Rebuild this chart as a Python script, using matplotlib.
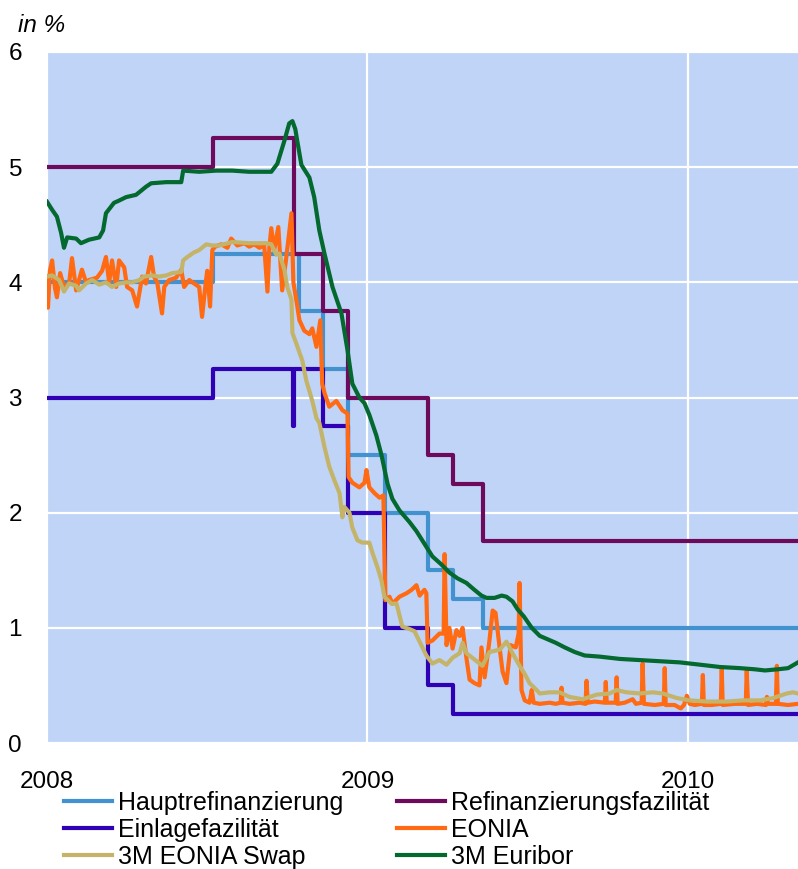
import numpy as np
import matplotlib
matplotlib.use('Agg')
import matplotlib.pyplot as plt
from matplotlib.lines import Line2D

plt.rcParams['font.family'] = ['Liberation Sans', 'DejaVu Sans']

# time axis in decimal years (offset from 2008.0)
# --- ECB policy rates (step functions) ---
mro_t = 2008 + np.array([0.000, 0.519, 0.787, 0.863, 0.940, 1.055, 1.189, 1.266, 1.362, 2.344])
mro_v = [4.00, 4.25, 3.75, 3.25, 2.50, 2.00, 1.50, 1.25, 1.00, 1.00]

mlf_t = 2008 + np.array([0.000, 0.519, 0.7705, 0.863, 0.940, 1.189, 1.266, 1.362, 2.344])
mlf_v = [5.00, 5.25, 4.25, 3.75, 3.00, 2.50, 2.25, 1.75, 1.75]

dep_t = 2008 + np.array([0.000, 0.519, 0.768, 0.7705, 0.863, 0.940, 1.055, 1.189, 1.266, 2.344])
dep_v = [3.00, 3.25, 2.75, 3.25, 2.75, 2.00, 1.00, 0.50, 0.25, 0.25]

# --- EONIA ---
eonia_t = 2008 + np.array([
    0.000, 0.003, 0.009, 0.016, 0.025, 0.031, 0.041, 0.053, 0.069, 0.078,
    0.091, 0.109, 0.122, 0.131, 0.156, 0.172, 0.184, 0.194, 0.203, 0.216,
    0.225, 0.241, 0.250, 0.266, 0.281, 0.297, 0.309, 0.325, 0.334, 0.344,
    0.359, 0.366, 0.381, 0.403, 0.419, 0.428, 0.444, 0.459, 0.475, 0.484,
    0.494, 0.500, 0.509, 0.516, 0.525, 0.544, 0.563, 0.575, 0.594, 0.616,
    0.631, 0.647, 0.663, 0.678, 0.688, 0.694, 0.700, 0.709, 0.722, 0.734,
    0.747, 0.763, 0.769, 0.778, 0.788, 0.803, 0.819, 0.828, 0.841, 0.853,
    0.859, 0.866, 0.881, 0.903, 0.922, 0.938, 0.941, 0.953, 0.975, 0.991,
    0.997, 1.006, 1.022, 1.038, 1.050, 1.056, 1.069, 1.078, 1.100, 1.122,
    1.138, 1.153, 1.163, 1.178, 1.184, 1.188, 1.203, 1.225, 1.238, 1.241,
    1.247, 1.256, 1.266, 1.278, 1.288, 1.297, 1.309, 1.319, 1.334, 1.350,
    1.356, 1.366, 1.381, 1.391, 1.400, 1.413, 1.422, 1.434, 1.447, 1.463,
    1.472, 1.475, 1.481, 1.491, 1.506, 1.513, 1.519, 1.538, 1.569, 1.588,
    1.603, 1.606, 1.609, 1.631, 1.663, 1.681, 1.684, 1.688, 1.709, 1.741,
    1.744, 1.747, 1.775, 1.778, 1.781, 1.803, 1.828, 1.838, 1.856, 1.859,
    1.863, 1.897, 1.925, 1.928, 1.931, 1.959, 1.978, 1.988, 1.997, 2.006,
    2.022, 2.044, 2.047, 2.050, 2.075, 2.103, 2.106, 2.109, 2.147, 2.181,
    2.184, 2.188, 2.216, 2.244, 2.247, 2.250, 2.275, 2.278, 2.281, 2.313,
    2.344])
eonia_v = [
    4.05, 3.78, 4.10, 4.19, 3.95, 3.87, 4.08, 3.96, 3.99, 4.21,
    3.93, 4.11, 4.00, 4.02, 4.04, 4.10, 4.22, 4.00, 4.19, 3.96,
    4.19, 4.13, 3.96, 3.93, 3.79, 4.05, 3.99, 4.22, 4.05, 4.00,
    3.73, 3.96, 4.02, 4.04, 4.11, 3.96, 4.02, 3.99, 3.96, 3.70,
    3.96, 4.10, 3.79, 4.28, 4.31, 4.33, 4.30, 4.38, 4.32, 4.34,
    4.31, 4.33, 4.30, 4.32, 3.92, 4.30, 4.47, 4.28, 4.48, 3.93,
    4.22, 4.60, 4.00, 3.85, 3.67, 3.58, 3.55, 3.60, 3.44, 3.67,
    3.12, 3.04, 2.92, 2.97, 2.89, 2.86, 2.31, 2.26, 2.22, 2.26,
    2.37, 2.22, 2.17, 2.13, 2.15, 1.24, 1.27, 1.21, 1.27, 1.30,
    1.33, 1.37, 1.28, 1.33, 1.30, 0.87, 0.89, 0.95, 0.95, 1.64,
    0.85, 1.00, 0.82, 0.98, 0.93, 1.00, 0.74, 0.55, 0.52, 0.50,
    0.83, 0.57, 0.89, 1.15, 1.13, 0.82, 0.62, 0.52, 0.85, 0.83,
    0.95, 1.39, 0.46, 0.37, 0.35, 0.46, 0.35, 0.34, 0.35, 0.34,
    0.35, 0.48, 0.35, 0.34, 0.35, 0.34, 0.54, 0.35, 0.36, 0.35,
    0.53, 0.35, 0.35, 0.57, 0.34, 0.35, 0.38, 0.34, 0.35, 0.69,
    0.34, 0.33, 0.34, 0.65, 0.33, 0.33, 0.30, 0.33, 0.41, 0.34,
    0.33, 0.34, 0.59, 0.33, 0.33, 0.34, 0.64, 0.33, 0.34, 0.34,
    0.63, 0.33, 0.34, 0.33, 0.40, 0.34, 0.34, 0.67, 0.34, 0.33,
    0.34]

# --- 3M EONIA swap ---
swap_t = 2008 + np.array([
    0.000, 0.016, 0.038, 0.053, 0.069, 0.091, 0.100, 0.122, 0.141, 0.163,
    0.184, 0.203, 0.225, 0.247, 0.266, 0.288, 0.303, 0.328, 0.350, 0.372,
    0.391, 0.419, 0.425, 0.438, 0.459, 0.475, 0.497, 0.516, 0.538, 0.578,
    0.631, 0.684, 0.700, 0.716, 0.725, 0.741, 0.750, 0.763, 0.766, 0.778,
    0.788, 0.797, 0.809, 0.828, 0.841, 0.850, 0.866, 0.881, 0.897, 0.913,
    0.922, 0.928, 0.944, 0.953, 0.969, 0.984, 1.006, 1.016, 1.031, 1.044,
    1.053, 1.075, 1.091, 1.109, 1.131, 1.147, 1.163, 1.184, 1.203, 1.225,
    1.247, 1.266, 1.288, 1.297, 1.309, 1.341, 1.359, 1.381, 1.413, 1.434,
    1.453, 1.475, 1.491, 1.506, 1.528, 1.538, 1.569, 1.600, 1.631, 1.672,
    1.716, 1.756, 1.778, 1.809, 1.850, 1.891, 1.922, 1.966, 2.006, 2.059,
    2.122, 2.172, 2.225, 2.266, 2.309, 2.328, 2.344])
swap_v = [
    4.05, 4.06, 4.02, 3.92, 3.99, 3.97, 3.93, 3.99, 4.02, 3.98,
    4.00, 3.96, 3.99, 4.00, 4.00, 4.02, 4.05, 4.06, 4.05, 4.06,
    4.08, 4.09, 4.19, 4.22, 4.26, 4.28, 4.33, 4.32, 4.32, 4.35,
    4.34, 4.34, 4.33, 4.24, 4.25, 4.11, 3.96, 3.85, 3.56, 3.47,
    3.39, 3.32, 3.15, 2.97, 2.82, 2.78, 2.57, 2.40, 2.28, 2.17,
    1.96, 2.05, 2.00, 1.87, 1.76, 1.74, 1.74, 1.65, 1.53, 1.41,
    1.27, 1.21, 1.21, 1.01, 0.99, 0.97, 0.88, 0.76, 0.69, 0.72,
    0.68, 0.74, 0.78, 0.87, 0.78, 0.71, 0.67, 0.79, 0.81, 0.88,
    0.78, 0.67, 0.60, 0.52, 0.46, 0.43, 0.44, 0.44, 0.40, 0.38,
    0.42, 0.43, 0.46, 0.44, 0.43, 0.44, 0.43, 0.39, 0.37, 0.36,
    0.36, 0.37, 0.37, 0.39, 0.43, 0.44, 0.43]

# --- 3M Euribor ---
euribor_t = 2008 + np.array([
    0.000, 0.016, 0.031, 0.044, 0.053, 0.063, 0.091, 0.106, 0.131, 0.163,
    0.175, 0.184, 0.209, 0.225, 0.247, 0.278, 0.309, 0.325, 0.372, 0.419,
    0.425, 0.475, 0.528, 0.578, 0.631, 0.700, 0.719, 0.741, 0.756, 0.766,
    0.775, 0.781, 0.794, 0.819, 0.834, 0.850, 0.866, 0.891, 0.919, 0.938,
    0.953, 0.975, 0.991, 1.006, 1.028, 1.044, 1.063, 1.078, 1.100, 1.131,
    1.153, 1.178, 1.203, 1.231, 1.256, 1.281, 1.309, 1.334, 1.356, 1.372,
    1.397, 1.419, 1.434, 1.453, 1.469, 1.488, 1.513, 1.538, 1.563, 1.588,
    1.616, 1.647, 1.678, 1.725, 1.788, 1.850, 1.913, 1.975, 2.038, 2.100,
    2.163, 2.209, 2.241, 2.281, 2.313, 2.344])
euribor_v = [
    4.70, 4.63, 4.57, 4.43, 4.30, 4.39, 4.38, 4.34, 4.37, 4.39,
    4.45, 4.60, 4.69, 4.71, 4.74, 4.76, 4.83, 4.86, 4.87, 4.87,
    4.97, 4.96, 4.97, 4.97, 4.96, 4.96, 5.03, 5.23, 5.38, 5.40,
    5.33, 5.23, 5.02, 4.91, 4.74, 4.45, 4.25, 3.96, 3.73, 3.41,
    3.12, 3.00, 2.95, 2.85, 2.67, 2.50, 2.25, 2.12, 2.02, 1.92,
    1.84, 1.73, 1.62, 1.55, 1.48, 1.43, 1.39, 1.33, 1.28, 1.26,
    1.26, 1.28, 1.27, 1.23, 1.16, 1.10, 1.00, 0.93, 0.90, 0.87,
    0.83, 0.79, 0.76, 0.75, 0.73, 0.72, 0.71, 0.70, 0.68, 0.66,
    0.65, 0.64, 0.63, 0.64, 0.65, 0.70]

labels = ['Hauptrefinanzierung', 'Refinanzierungsfazilität', 'Einlagefazilität',
          'EONIA', '3M EONIA Swap', '3M Euribor']
colors = ['#4292cf', '#6d0a5c', '#3000b4', '#ff6a12', '#c4b46a', '#04692e']

fig = plt.figure(figsize=(7.98, 8.69), dpi=100)
ax = fig.add_axes([47/798, 126/869, 751/798, 691/869])
ax.set_facecolor('#c0d4f8')

lw = 3.0
ax.plot(mro_t, mro_v, drawstyle='steps-post', color=colors[0], lw=lw)
ax.plot(mlf_t, mlf_v, drawstyle='steps-post', color=colors[1], lw=lw)
ax.plot(dep_t, dep_v, drawstyle='steps-post', color=colors[2], lw=lw)
ax.plot(eonia_t, eonia_v, color=colors[3], lw=lw, solid_joinstyle='round')
ax.plot(swap_t, swap_v, color=colors[4], lw=lw, solid_joinstyle='round')
ax.plot(euribor_t, euribor_v, color=colors[5], lw=lw, solid_joinstyle='round')

ax.set_xlim(2008, 2008 + 2.344)
ax.set_ylim(0, 6)
ax.set_xticks([2008, 2009, 2010])
ax.set_xticklabels(['2008', '2009', '2010'])
ax.set_yticks(range(7))
ax.grid(True, color='white', lw=1.6)
ax.set_axisbelow(True)
for s in ax.spines.values():
    s.set_visible(False)
ax.tick_params(axis='both', length=0, labelsize=17.5)
ax.tick_params(axis='y', pad=18)
ax.tick_params(axis='x', pad=20)

fig.text(18/798, 1 - 32/869, 'in %', fontsize=17.5, style='italic', va='baseline')

h = [Line2D([], [], color=c, lw=lw) for c in colors]
leg_kw = dict(loc='upper left', frameon=False, fontsize=18, handlelength=1.92,
              handletextpad=0.24, labelspacing=0.12, borderpad=0, borderaxespad=0)
fig.legend([h[0], h[2], h[4]], [labels[0], labels[2], labels[4]],
           bbox_to_anchor=(64/798, 1 - 791/869), **leg_kw)
fig.legend([h[1], h[3], h[5]], [labels[1], labels[3], labels[5]],
           bbox_to_anchor=(397/798, 1 - 791/869), **leg_kw)

fig.savefig('out.png', dpi=100)
